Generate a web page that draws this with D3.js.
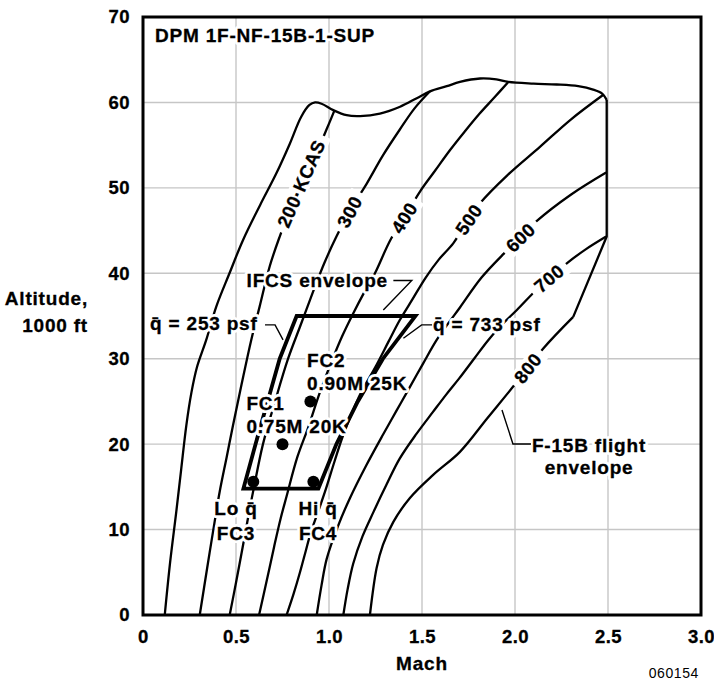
<!DOCTYPE html>
<html>
<head>
<meta charset="utf-8">
<script src="https://cdn.jsdelivr.net/npm/d3@7"></script>
<style>
  body { margin: 0; background: #fff; }
  svg text { font-family: "Liberation Sans", Arial, Helvetica, sans-serif; font-weight: bold; }
</style>
</head>
<body>
<svg id="chart" width="714" height="682"></svg>
<script>
// ============================================================
// DATA, [Mach, altitude in 1000 ft]
// ============================================================

const machTicks = [0, 0.5, 1.0, 1.5, 2.0, 2.5, 3.0];
const altTicks = [0, 10, 20, 30, 40, 50, 60, 70];

// F-15B flight envelope: low-speed side and ceiling
const envelopeTop = [
    [0.117, 0], [0.145, 6], [0.179, 12.1], [0.205, 17], [0.233, 22.2], [0.26, 26],
    [0.29, 29], [0.34, 32.2], [0.394, 36.1], [0.465, 40], [0.538, 43.9], [0.63, 48],
    [0.717, 51.7], [0.79, 55.2], [0.85, 58.3], [0.895, 59.7], [0.925, 60.0], [0.96, 59.85],
    [1.023, 59.1], [1.095, 58.5], [1.167, 58.4], [1.274, 58.7], [1.382, 59.5], [1.472, 60.5],
    [1.543, 61.3], [1.633, 61.9], [1.704, 62.4], [1.812, 62.8], [1.90, 62.7], [1.964, 62.4],
    [2.10, 62.2], [2.224, 62.1], [2.34, 61.9], [2.42, 61.5], [2.47, 61.0], [2.493, 60.3]
];
// high-speed corner of the envelope
const envelopeCorner = [[2.493, 60.3], [2.493, 44.3], [2.313, 34.9]];

// constant KCAS lines
const kcas200 = [
    [0.305, 0], [0.345, 5.5], [0.385, 10.9], [0.412, 14.4], [0.45, 18.5], [0.484, 22.2],
    [0.53, 27], [0.582, 32.2], [0.627, 36.1], [0.681, 40.8], [0.735, 44.3], [0.80, 48],
    [0.87, 51.5], [0.94, 54.5], [0.99, 57], [1.03, 59.1]
];
const kcas300 = [
    [0.466, 0], [0.502, 4], [0.538, 8.2], [0.57, 12], [0.597, 15], [0.645, 20], [0.71, 25],
    [0.78, 30], [0.845, 33.8], [0.912, 37.7], [0.975, 41.2], [1.04, 44.3], [1.12, 47.6],
    [1.203, 50.5], [1.29, 53.8], [1.38, 56.8], [1.46, 59.3], [1.543, 61.3]
];
const kcas400 = [
    [0.624, 0], [0.665, 4], [0.705, 8], [0.74, 11.3], [0.772, 13.9], [0.83, 18.5], [0.889, 22],
    [0.95, 26], [1.02, 30], [1.07, 32.6], [1.13, 35.3], [1.19, 37.8], [1.247, 40], [1.33, 43.9],
    [1.41, 46.7], [1.49, 49.6], [1.57, 52], [1.65, 54.4], [1.73, 56.6], [1.81, 58.7],
    [1.89, 60.6], [1.964, 62.4]
];
const kcas500 = [
    [0.772, 0], [0.81, 2.5], [0.844, 5], [0.875, 7.5], [0.90, 9.5], [0.94, 12], [0.978, 14.4],
    [1.03, 18], [1.077, 21.1], [1.16, 25.5], [1.256, 29.3], [1.32, 32], [1.38, 34.5],
    [1.45, 37], [1.52, 39.5], [1.59, 41.6], [1.668, 43.5], [1.72, 45.3], [1.812, 48.2],
    [1.96, 51.5], [2.134, 54.8], [2.30, 58], [2.475, 60.9]
];
const kcas600 = [
    [0.934, 0], [0.96, 3.5], [0.988, 6.6], [1.05, 10.5], [1.113, 13.7], [1.2, 17.5],
    [1.29, 21.1], [1.36, 23.8], [1.43, 26.5], [1.505, 29.4], [1.579, 32.2], [1.64, 34.1],
    [1.704, 36], [1.82, 39.5], [1.94, 42.3], [2.03, 44.2], [2.116, 46.1], [2.30, 49.2],
    [2.49, 51.8]
];
const kcas700 = [
    [1.077, 0], [1.10, 3], [1.13, 6], [1.18, 9.2], [1.24, 12.1], [1.31, 15.3], [1.38, 18.3],
    [1.47, 21.2], [1.56, 23.8], [1.63, 25.8], [1.70, 27.7], [1.78, 30], [1.857, 32.2],
    [1.93, 34], [2.01, 35.7], [2.14, 38.6], [2.28, 41.2], [2.38, 42.8], [2.49, 44.3]
];
// 800 KCAS, which is also the high-speed edge of the envelope
const kcas800 = [
    [2.313, 34.9], [2.152, 31.2], [2.0, 27.0], [1.85, 23.0], [1.704, 19.1], [1.56, 16.4],
    [1.435, 13.7], [1.346, 10.9], [1.29, 8.2], [1.256, 5.5], [1.22, 0]
];

// IFCS envelope: constant dynamic pressure sides, flat top and bottom
const qLow = [[0.54, 14.8], [0.605, 20], [0.67, 25], [0.735, 30], [0.826, 35]];    // 253 psf
const qHigh = [[1.465, 35], [1.29, 30], [1.155, 25], [1.04, 20], [0.943, 14.8]];   // 733 psf

const testPoints = [
    { name: 'FC1', mach: 0.75, alt: 20 },
    { name: 'FC2', mach: 0.90, alt: 25 },
    { name: 'FC3', mach: 0.593, alt: 15.6 },
    { name: 'FC4', mach: 0.916, alt: 15.6 }
];

// label text for each KCAS line and the altitude it sits at
const curveLabels = [
    { text: '200·KCAS', curve: kcas200, alt: 50.5 },
    { text: '300', curve: kcas300, alt: 47.2 },
    { text: '400', curve: kcas400, alt: 46.5 },
    { text: '500', curve: kcas500, alt: 46.3 },
    { text: '600', curve: kcas600, alt: 44.2 },
    { text: '700', curve: kcas700, alt: 39.4 },
    { text: '800', curve: kcas800, alt: 28.9 }
];

// ============================================================
// LAYOUT
// ============================================================
const width = 714, height = 682;
const margin = { top: 17, right: 13, bottom: 67, left: 143 };

const svg = d3.select('#chart');

const x = d3.scaleLinear().domain([0, 3]).range([margin.left, width - margin.right]);
const y = d3.scaleLinear().domain([0, 70]).range([height - margin.bottom, margin.top]);

const line = d3.line()
    .x(d => x(d[0]))
    .y(d => y(d[1]))
    .curve(d3.curveCatmullRom.alpha(0.5));
const straight = d3.line().x(d => x(d[0])).y(d => y(d[1]));

// Grid
const grid = svg.append('g').attr('stroke', '#c6c6c6').attr('stroke-width', 1.4);
grid.selectAll('.vgrid')
    .data(machTicks.filter(d => d > 0 && d < 3))
    .join('line')
    .attr('x1', d => x(d)).attr('x2', d => x(d))
    .attr('y1', y(0)).attr('y2', y(70));
grid.selectAll('.hgrid')
    .data(altTicks.filter(d => d > 0 && d < 70))
    .join('line')
    .attr('x1', x(0)).attr('x2', x(3))
    .attr('y1', d => y(d)).attr('y2', d => y(d));

// Axes (labels only, the frame is drawn last)
const xAxis = svg.append('g')
    .attr('transform', `translate(0,${y(0)})`)
    .call(d3.axisBottom(x).tickValues(machTicks)
        .tickFormat(d => d === 0 ? '0' : d.toFixed(1))
        .tickSize(0).tickPadding(15));
const yAxis = svg.append('g')
    .attr('transform', `translate(${x(0)},0)`)
    .call(d3.axisLeft(y).tickValues(altTicks).tickSize(0).tickPadding(13));
[xAxis, yAxis].forEach(a => {
    a.select('.domain').remove();
    a.attr('font-size', 18.5).attr('font-family', null);
    a.selectAll('text')
        .attr('fill', '#000')
        .attr('stroke', '#000')
        .attr('stroke-width', 0.3)
        .style('letter-spacing', '0.5px');
});

// Curves
const curves = svg.append('g')
    .attr('fill', 'none')
    .attr('stroke', '#000')
    .attr('stroke-width', 2.3)
    .attr('stroke-linejoin', 'round');

curves.append('path').attr('d', line(envelopeTop));
curves.append('path').attr('d', straight(envelopeCorner));
[kcas200, kcas300, kcas400, kcas500, kcas600, kcas700, kcas800].forEach(c => {
    curves.append('path').attr('d', line(c));
});

// IFCS envelope box
const box = qLow.concat(qHigh);
svg.append('path')
    .attr('d', straight(box) + 'Z')
    .attr('fill', 'none')
    .attr('stroke', '#000')
    .attr('stroke-width', 3.8)
    .attr('stroke-linejoin', 'miter');

// Labels sitting on the KCAS lines, rotated along the line
function pointOnCurve(curve, alt) {
    const pts = curve.slice().sort((a, b) => a[1] - b[1]);
    for (let i = 0; i < pts.length - 1; i++) {
        const a = pts[i], b = pts[i + 1];
        if (alt >= a[1] && alt <= b[1]) {
            const t = (alt - a[1]) / (b[1] - a[1]);
            const m = a[0] + t * (b[0] - a[0]);
            const ang = Math.atan2(y(b[1]) - y(a[1]), x(b[0]) - x(a[0])) * 180 / Math.PI;
            return { mach: m, angle: ang };
        }
    }
    return { mach: pts[0][0], angle: 0 };
}

curveLabels.forEach(l => {
    const p = pointOnCurve(l.curve, l.alt);
    const g = svg.append('g')
        .attr('transform', `translate(${x(p.mach)},${y(l.alt)}) rotate(${p.angle})`);
    const t = g.append('text')
        .attr('text-anchor', 'middle')
        .attr('dy', '0.36em')
        .attr('font-size', 18.5)
        .attr('stroke', '#000')
        .attr('stroke-width', 0.3)
        .style('letter-spacing', '0.5px')
        .text(l.text);
    const bb = t.node().getBBox();
    g.insert('rect', 'text')
        .attr('x', bb.x - 6).attr('y', bb.y + 1)
        .attr('width', bb.width + 12).attr('height', bb.height - 2)
        .attr('fill', '#fff');
});

// Annotations (text with a white halo, plus leader lines)
const notes = [
    { x: 0.038, anchor: 'start', lines: [['q\u0304 = 253 psf', 33.37]],
      leader: [[0.656, 33.96], [0.71, 33.96], [0.753, 32.2]] },
    { x: 0.557, anchor: 'start', lines: [['IFCS envelope', 38.37]],
      leader: [[1.346, 39.15], [1.445, 39.15], [1.292, 35.7]] },
    { x: 1.559, anchor: 'start', lines: [['q\u0304 = 733 psf', 33.3]],
      leader: [[1.554, 33.96], [1.498, 33.96], [1.40, 32.4]] },
    { x: 0.882, anchor: 'start', lines: [['FC2', 29.04], ['0.90M 25K', 26.35]] },
    { x: 0.556, anchor: 'start', lines: [['FC1', 24.0], ['0.75M 20K', 21.3]] },
    { x: 0.5, anchor: 'middle', lines: [['Lo q\u0304', 11.7], ['FC3', 8.78]] },
    { x: 0.941, anchor: 'middle', lines: [['Hi q\u0304', 11.7], ['FC4', 8.78]] },
    { x: 2.398, anchor: 'middle', lines: [['F-15B flight', 19.12], ['envelope', 16.5]],
      leader: [[2.086, 20.02], [1.989, 20.02], [1.93, 24.0]] },
    { x: 0.0645, anchor: 'start', lines: [['DPM 1F-NF-15B-1-SUP', 67.13]] }
];

const noteLayer = svg.append('g');
notes.forEach(n => {
    n.lines.forEach(([txt, alt]) => {
        // white halo underneath, then the text itself
        const attrs = sel => sel
            .attr('x', x(n.x))
            .attr('y', y(alt))
            .attr('text-anchor', n.anchor)
            .attr('font-size', 19)
            .style('letter-spacing', '0.8px')
            .text(txt);
        noteLayer.append('text').call(attrs)
            .attr('fill', '#fff')
            .attr('stroke', '#fff')
            .attr('stroke-width', 6)
            .attr('stroke-linejoin', 'round');
        noteLayer.append('text').call(attrs)
            .attr('fill', '#000')
            .attr('stroke', '#000')
            .attr('stroke-width', 0.3);
    });
    if (n.leader) {
        noteLayer.append('path')
            .attr('d', straight(n.leader))
            .attr('fill', 'none')
            .attr('stroke', '#000')
            .attr('stroke-width', 1.4);
    }
});

// Flight condition points
svg.append('g')
    .selectAll('circle')
    .data(testPoints)
    .join('circle')
    .attr('cx', d => x(d.mach))
    .attr('cy', d => y(d.alt))
    .attr('r', 6)
    .attr('fill', '#000');

// Frame
svg.append('rect')
    .attr('x', x(0)).attr('y', y(70))
    .attr('width', x(3) - x(0)).attr('height', y(0) - y(70))
    .attr('fill', 'none')
    .attr('stroke', '#000')
    .attr('stroke-width', 3);

// Axis titles
function boldText(px, py, anchor, txt) {
    return svg.append('text')
        .attr('x', px).attr('y', py)
        .attr('text-anchor', anchor)
        .attr('font-size', 19)
        .attr('stroke', '#000')
        .attr('stroke-width', 0.3)
        .style('letter-spacing', '0.8px')
        .text(txt);
}
boldText(88, 305, 'end', 'Altitude,');
boldText(88, 332, 'end', '1000 ft');
boldText((x(0) + x(3)) / 2, 670, 'middle', 'Mach');

// Figure number
svg.append('text')
    .attr('x', 699).attr('y', 678)
    .attr('text-anchor', 'end')
    .attr('font-size', 14)
    .style('font-weight', 'normal')
    .style('letter-spacing', '0.6px')
    .text('060154');
</script>
</body>
</html>
